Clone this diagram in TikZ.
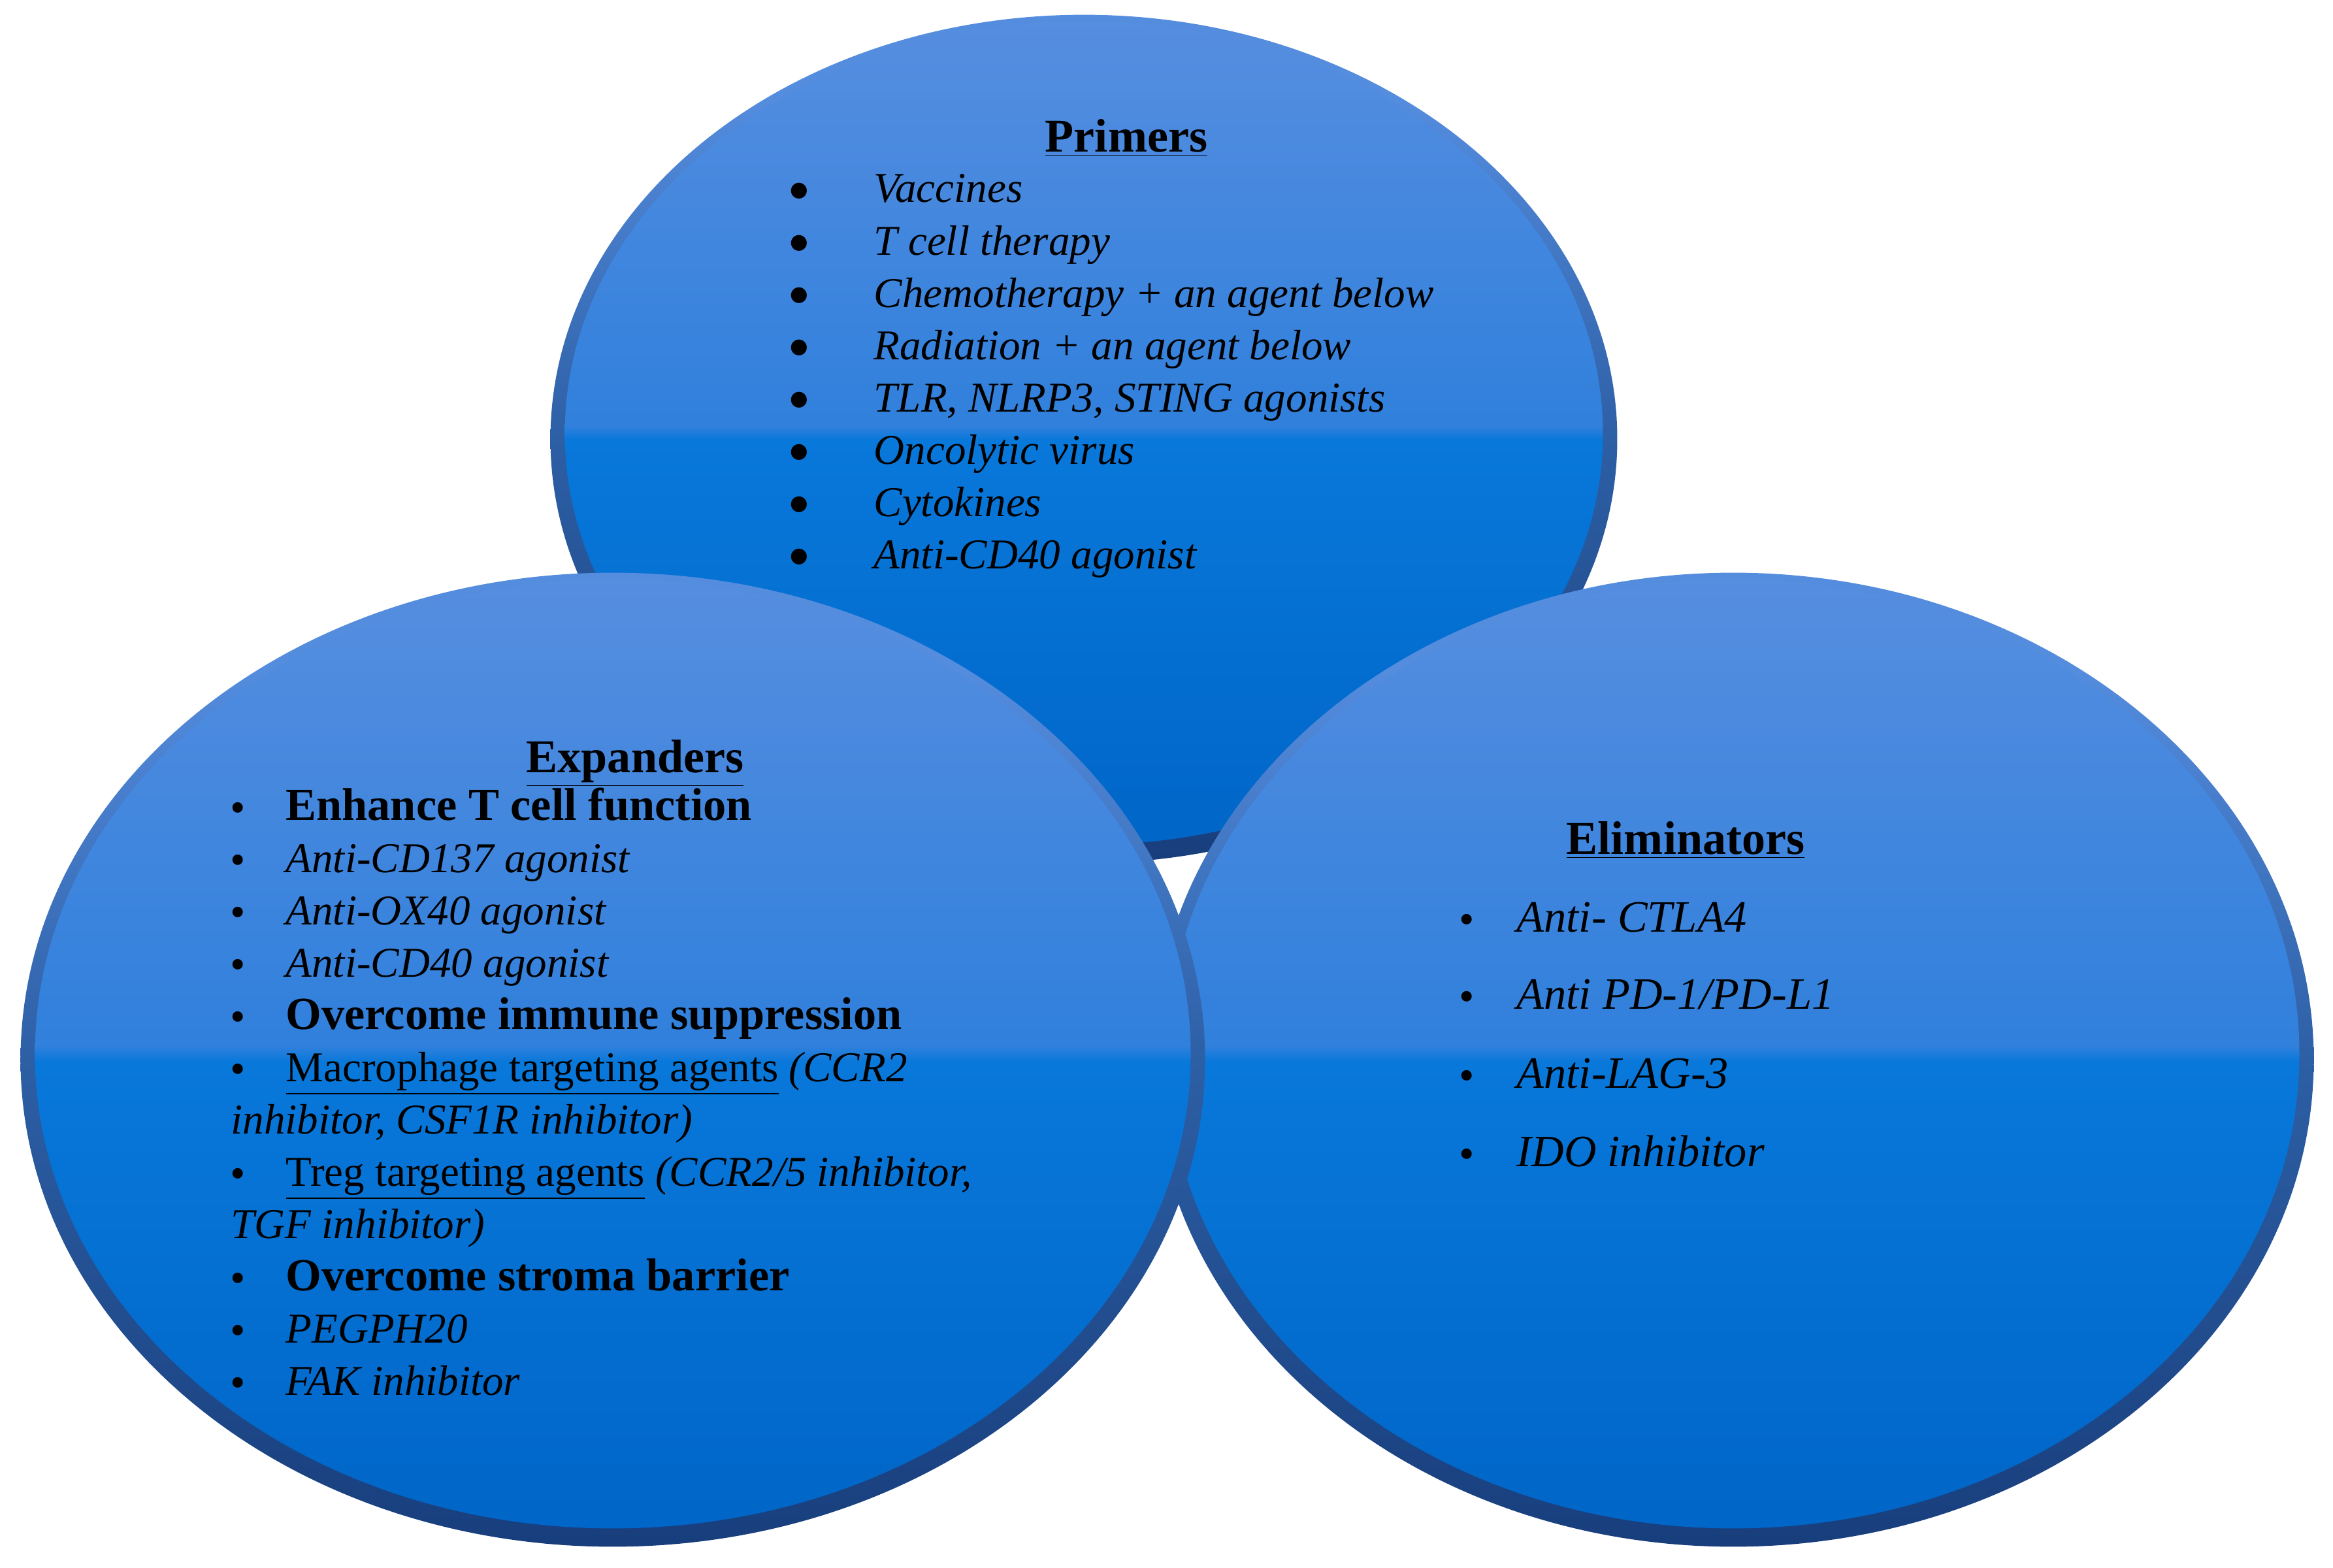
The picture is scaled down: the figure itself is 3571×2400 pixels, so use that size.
\documentclass[tikz,border=0pt]{standalone}
\usepackage{fontspec}
\setmainfont{Liberation Serif}
\newfontfamily\dejavu{DejaVu Sans}
\definecolor{btop}{RGB}{86,142,224}
\definecolor{bmidA}{RGB}{48,128,220}
\definecolor{bmidB}{RGB}{8,120,218}
\definecolor{bbot}{RGB}{0,102,200}
\definecolor{rtop}{RGB}{84,140,222}
\definecolor{rmid}{RGB}{45,95,165}
\definecolor{rbot}{RGB}{24,62,124}
\pgfdeclareverticalshading{bodysh}{100bp}{color(0bp)=(bbot); color(25bp)=(bbot); color(49.6bp)=(bmidB); color(50.4bp)=(bmidA); color(75bp)=(btop); color(100bp)=(btop)}
\pgfdeclareverticalshading{rimsh}{100bp}{color(0bp)=(rbot); color(25bp)=(rbot); color(50bp)=(rmid); color(70bp)=(rtop); color(100bp)=(rtop)}
\newcommand\blob[4]{%
  \path[shading=rimsh] (#1,#2) ellipse [x radius=#3cm, y radius=#4cm];
  \path[shading=bodysh] (#1,#2-9) ellipse [x radius=#3cm-0.22cm, y radius=#4cm-0.19cm];
}
\tikzset{
  hd/.style={anchor=base, inner sep=0, font=\fontsize{20.5}{24}\selectfont\bfseries},
  itm/.style={anchor=base west, inner sep=0, font=\fontsize{18.5}{22}\selectfont\itshape},
  bld/.style={anchor=base west, inner sep=0, font=\fontsize{20}{24}\selectfont\bfseries},
  reg/.style={anchor=base west, inner sep=0, font=\fontsize{18.5}{22}\selectfont},
  eli/.style={anchor=base west, inner sep=0, font=\fontsize{19.5}{23}\selectfont\itshape},
  bigbul/.style={anchor=center, inner sep=0, font=\dejavu\fontsize{9}{10}\selectfont},
  smbul/.style={anchor=base, inner sep=0, font=\fontsize{19}{19}\selectfont},
}
\begin{document}
\begin{tikzpicture}[x=0.01cm, y=-0.01cm]
\useasboundingbox (0,0) rectangle (3571,2400);
% ellipses
\blob{1659}{672}{8.16}{6.49}
\blob{2653}{1622}{8.88}{7.45}
\blob{938}{1622}{9.06}{7.45}
% Primers
\node[hd] (ph) at (1724,232) {\underline{Primers}};
\foreach \t [count=\i from 0] in {Vaccines, T cell therapy, Chemotherapy + an agent below, Radiation + an agent below, {TLR, NLRP3, STING agonists}, Oncolytic virus, Cytokines, Anti-CD40 agonist} {
  \node[bigbul] (pb\i) at (1223,292+80*\i) {●};
  \node[itm] (pt\i) at (1337,310+80*\i) {\t};
}
% Expanders
\node[hd] (eh) at (972,1182) {\underline{Expanders}};
\foreach \y [count=\i] in {1255,1335,1415,1495,1575,1655,1815,1975,2055,2135} {
  \node[smbul] (eb\i) at (364,\y+3) {•};
}
\node[bld] (e1) at (437,1255) {Enhance T cell function};
\node[itm] (e2) at (437,1335) {Anti-CD137 agonist};
\node[itm] (e3) at (437,1415) {Anti-OX40 agonist};
\node[itm] (e4) at (437,1495) {Anti-CD40 agonist};
\node[bld] (e5) at (437,1575) {Overcome immune suppression};
\node[reg] (e6) at (437,1655) {\underline{Macrophage targeting agents} \textit{(CCR2}};
\node[itm] (e7) at (353,1735) {inhibitor, CSF1R inhibitor)};
\node[reg] (e8) at (437,1815) {\underline{Treg targeting agents} \textit{(CCR2/5 inhibitor,}};
\node[itm] (e9) at (353,1895) {TGF inhibitor)};
\node[bld] (e10) at (437,1975) {Overcome stroma barrier};
\node[itm] (e11) at (437,2055) {PEGPH20};
\node[itm] (e12) at (437,2135) {FAK inhibitor};
% Eliminators
\node[hd] (lh) at (2580,1307) {\underline{Eliminators}};
\foreach \t/\y [count=\i] in {Anti- CTLA4/1426, Anti PD-1\slash PD-L1/1544, Anti-LAG-3/1665, IDO inhibitor/1785} {
  \node[smbul] (lb\i) at (2245,\y+3) {•};
  \node[eli] (lt\i) at (2321,\y) {\t};
}
\end{tikzpicture}
\end{document}
